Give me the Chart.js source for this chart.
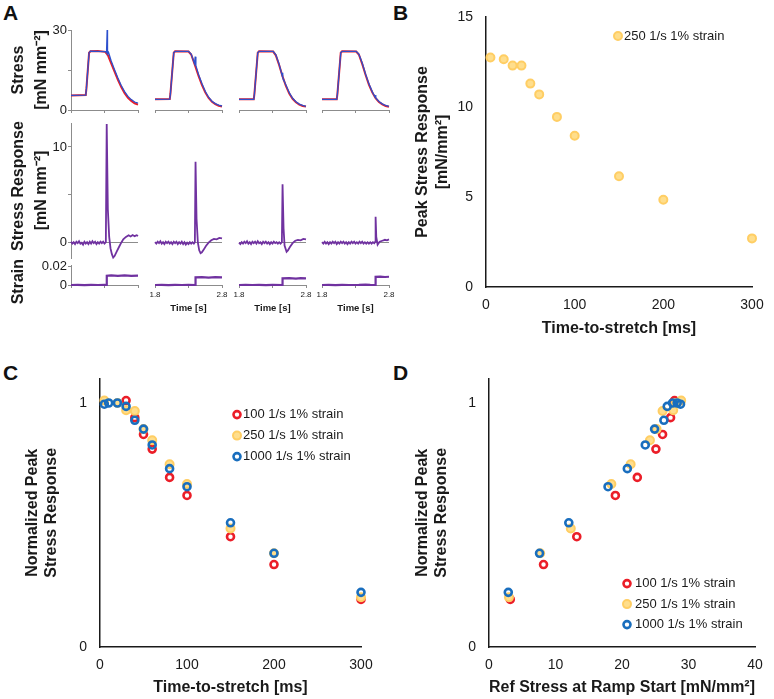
<!DOCTYPE html>
<html>
<head>
<meta charset="utf-8">
<script src="https://cdn.jsdelivr.net/npm/chart.js@4.4.1/dist/chart.umd.min.js"></script>
<style>
  body { margin: 0; background: #fff; }
  #fig { position: relative; width: 774px; height: 699px; overflow: hidden; font-family: "Liberation Sans", Arial, sans-serif; }
  .tag { position: absolute; font-weight: bold; font-size: 21px; line-height: 21px; color: #111; }
</style>
</head>
<body>
<div id="fig">
  <div class="tag" style="left:3px;top:2px">A</div>
  <div class="tag" style="left:393px;top:2px">B</div>
  <div class="tag" style="left:3px;top:362px">C</div>
  <div class="tag" style="left:393px;top:362px">D</div>
</div>
<script>
// ---- panel A traces: [time s, value] ----
const stressFit1 = [[1.80,5.4],[2.02,5.6],[2.03,8],[2.07,21.5],[2.09,22.0],[2.20,22.1],[2.31,21.8],[2.35,20.6],[2.40,17.5],[2.45,14.4],[2.50,11.3],[2.55,8.6],[2.60,6.3],[2.65,4.6],[2.70,3.4],[2.75,2.5],[2.80,2.0]];
const stressRaw1 = [[1.80,5.5],[2.02,5.6],[2.03,8],[2.07,21.5],[2.09,22.1],[2.20,22.0],[2.31,21.9],[2.33,21.5],[2.34,30],[2.345,21],[2.36,21.6],[2.40,18.4],[2.45,15.1],[2.50,12.0],[2.55,9.2],[2.60,6.9],[2.65,5.1],[2.70,3.9],[2.75,3.0],[2.80,2.6]];
const stressFit2 = [[1.80,4.0],[2.02,4.1],[2.03,6],[2.08,21.5],[2.10,22.0],[2.30,21.9],[2.34,20.8],[2.40,16.5],[2.45,12.8],[2.50,9.4],[2.55,6.6],[2.60,4.5],[2.65,3.1],[2.70,2.2],[2.75,1.6],[2.80,1.3]];
const stressRaw2 = [[1.80,4.0],[2.02,4.1],[2.03,6],[2.08,21.5],[2.10,22.0],[2.30,22.0],[2.34,21.0],[2.39,17.4],[2.40,20],[2.41,16.6],[2.45,13.3],[2.50,9.9],[2.55,7.0],[2.60,4.8],[2.65,3.3],[2.70,2.4],[2.75,1.8],[2.80,1.5]];
const stressFit3 = [[1.80,4.0],[2.02,4.0],[2.03,6],[2.08,21.5],[2.10,22.0],[2.31,21.9],[2.35,20.5],[2.40,16.8],[2.45,12.6],[2.50,9.0],[2.55,6.2],[2.60,4.2],[2.65,2.9],[2.70,2.0],[2.75,1.5],[2.80,1.3]];
const stressRaw3 = [[1.80,4.0],[2.02,4.0],[2.03,6],[2.08,21.5],[2.10,22.0],[2.31,22.0],[2.35,20.7],[2.40,17.1],[2.445,12.8],[2.45,14.0],[2.455,12.2],[2.50,9.4],[2.55,6.5],[2.60,4.4],[2.65,3.1],[2.70,2.2],[2.75,1.7],[2.80,1.4]];
const stressFit4 = [[1.80,4.0],[2.02,4.0],[2.03,6],[2.08,21.5],[2.10,22.0],[2.31,21.9],[2.35,20.8],[2.40,17.3],[2.45,13.2],[2.50,9.5],[2.55,6.6],[2.60,4.4],[2.65,3.0],[2.70,2.1],[2.75,1.5],[2.80,1.2]];
const stressRaw4 = [[1.80,4.0],[2.02,4.0],[2.03,6],[2.08,21.5],[2.10,22.0],[2.31,22.0],[2.35,21.0],[2.40,17.6],[2.45,13.5],[2.50,9.8],[2.55,6.9],[2.595,4.7],[2.60,5.6],[2.605,4.5],[2.65,3.2],[2.70,2.3],[2.75,1.7],[2.80,1.4]];

const resp1 = [[1.80,0.1],[1.82,-0.1],[1.84,0.05],[1.86,-0.15],[1.88,0.1],[1.90,-0.05],[1.92,0.15],[1.94,-0.1],[1.96,0.0],[1.98,-0.2],[2.00,0.1],[2.02,-0.1],[2.04,0.05],[2.06,-0.15],[2.08,0.1],[2.10,-0.1],[2.12,0.15],[2.14,-0.05],[2.16,0.1],[2.18,-0.15],[2.20,0.05],[2.22,-0.1],[2.24,0.1],[2.26,-0.05],[2.28,0.1],[2.30,-0.1],[2.32,0.05],[2.333,12.4],[2.35,3.5],[2.37,0.6],[2.39,-0.6],[2.41,-1.2],[2.43,-1.55],[2.45,-1.4],[2.48,-0.95],[2.52,-0.4],[2.55,0.0],[2.58,0.35],[2.62,0.6],[2.66,0.78],[2.69,0.65],[2.72,0.8],[2.75,0.68],[2.78,0.78],[2.80,0.7]];
const resp2 = [[1.80,0.05],[1.82,-0.1],[1.84,0.1],[1.86,-0.05],[1.88,0.15],[1.90,-0.1],[1.92,0.05],[1.94,-0.15],[1.96,0.1],[1.98,-0.05],[2.00,0.1],[2.02,-0.1],[2.04,0.05],[2.06,-0.15],[2.08,0.1],[2.10,-0.05],[2.12,0.1],[2.14,-0.15],[2.16,0.05],[2.18,-0.1],[2.20,0.1],[2.22,-0.15],[2.24,0.05],[2.26,-0.2],[2.28,0.0],[2.30,-0.15],[2.32,0.05],[2.34,-0.1],[2.36,0.05],[2.38,-0.1],[2.395,0.05],[2.405,8.45],[2.42,2.5],[2.44,0.0],[2.46,-0.8],[2.48,-1.1],[2.50,-1.0],[2.53,-0.7],[2.56,-0.35],[2.60,0.0],[2.64,0.25],[2.68,0.4],[2.72,0.35],[2.76,0.5],[2.80,0.45]];
const resp3 = [[1.80,0.0],[1.82,-0.15],[1.84,0.05],[1.86,-0.1],[1.88,0.1],[1.90,-0.05],[1.92,0.15],[1.94,-0.1],[1.96,0.05],[1.98,-0.15],[2.00,0.1],[2.02,-0.05],[2.04,0.1],[2.06,-0.1],[2.08,0.15],[2.10,-0.05],[2.12,0.05],[2.14,-0.15],[2.16,0.1],[2.18,-0.05],[2.20,0.1],[2.22,-0.1],[2.24,0.05],[2.26,-0.15],[2.28,0.05],[2.30,-0.1],[2.32,0.1],[2.34,-0.05],[2.36,0.05],[2.38,-0.1],[2.40,0.05],[2.42,-0.1],[2.44,0.05],[2.45,6.1],[2.465,1.5],[2.48,-0.3],[2.51,-0.95],[2.53,-0.8],[2.56,-0.45],[2.60,-0.05],[2.64,0.2],[2.68,0.3],[2.72,0.25],[2.76,0.4],[2.80,0.35]];
const resp4 = [[1.80,0.05],[1.82,-0.1],[1.84,0.1],[1.86,-0.1],[1.88,0.05],[1.90,-0.15],[1.92,0.05],[1.94,-0.1],[1.96,0.1],[1.98,-0.05],[2.00,0.1],[2.02,-0.15],[2.04,0.05],[2.06,-0.1],[2.08,0.1],[2.10,-0.05],[2.12,0.1],[2.14,-0.1],[2.16,0.05],[2.18,-0.15],[2.20,0.05],[2.22,-0.1],[2.24,0.1],[2.26,-0.05],[2.28,0.1],[2.30,-0.1],[2.32,0.05],[2.34,-0.1],[2.36,0.1],[2.38,-0.05],[2.40,0.1],[2.42,-0.1],[2.44,0.05],[2.46,-0.1],[2.48,0.05],[2.50,-0.1],[2.52,0.05],[2.54,-0.1],[2.56,0.05],[2.58,-0.05],[2.595,0.1],[2.60,2.7],[2.61,0.6],[2.63,-0.2],[2.66,0.1],[2.70,0.2],[2.74,0.3],[2.77,0.25],[2.80,0.35]];

const strain1 = [[1.80,0],[1.90,0.0002],[2.00,-0.0001],[2.10,0.0001],[2.20,0],[2.30,0.0001],[2.333,0],[2.334,0.0102],[2.40,0.0106],[2.50,0.0100],[2.60,0.0105],[2.70,0.0101],[2.80,0.0104]];
const strain2 = [[1.80,0],[1.90,0.0001],[2.00,-0.0001],[2.10,0.0002],[2.20,0],[2.30,0.0001],[2.404,0],[2.405,0.0084],[2.50,0.0087],[2.60,0.0082],[2.70,0.0086],[2.80,0.0083]];
const strain3 = [[1.80,0],[1.90,0.0002],[2.00,0],[2.10,0.0001],[2.20,-0.0001],[2.30,0.0001],[2.449,0],[2.45,0.0073],[2.55,0.0076],[2.65,0.0071],[2.72,0.0075],[2.80,0.0072]];
const strain4 = [[1.80,0],[1.90,0.0002],[2.00,-0.0001],[2.10,0.0001],[2.20,0],[2.35,0.0002],[2.45,0.0005],[2.52,0.0002],[2.599,0],[2.60,0.009],[2.67,0.0093],[2.74,0.0088],[2.80,0.0091]];

const stressTicks = [0, 15, 30];
const stressTickLabels = ['0', '', '30'];
const respTicks = [0, 5, 10];
const respTickLabels = ['0', '', '10'];
const strainTicks = [0, 0.02];
const strainTickLabels = ['0', '0.02'];
const timeTicks = [1.8, 2.3, 2.8];
const timeTickLabels = ['1.8', '', '2.8'];

// ---- panels B, C, D ----
const timesB = [5, 20, 30, 40, 50, 60, 80, 100, 150, 200, 300];
const peakB = [12.75, 12.65, 12.3, 12.3, 11.3, 10.7, 9.45, 8.4, 6.15, 4.85, 2.7];

const timesRed = [30, 40, 50, 60, 80, 100, 150, 200, 300];
const normRed = [1.01, 0.94, 0.871, 0.811, 0.695, 0.621, 0.452, 0.338, 0.195];
const refRed = [27.9, 27.3, 26.1, 25.1, 22.3, 19.0, 13.2, 8.2, 3.2];

const timesOrange = [5, 20, 30, 40, 50, 60, 80, 100, 150, 200, 300];
const normOrange = [1.01, 1.0, 0.97, 0.967, 0.893, 0.847, 0.749, 0.668, 0.486, 0.384, 0.204];
const refOrange = [28.9, 28.1, 27.7, 26.1, 25.2, 24.2, 21.3, 18.4, 12.3, 7.7, 3.0];

const timesBlue = [5, 10, 20, 30, 40, 50, 60, 80, 100, 150, 200, 300];
const normBlue = [0.995, 1.0, 1.0, 0.986, 0.929, 0.893, 0.828, 0.731, 0.657, 0.509, 0.384, 0.224];
const refBlue = [28.8, 28.3, 27.6, 26.8, 26.3, 24.9, 23.5, 20.8, 17.9, 12.0, 7.6, 2.9];

const seriesLabels = ['100 1/s 1% strain', '250 1/s 1% strain', '1000 1/s 1% strain'];

const FONT = '"Liberation Sans", Arial, sans-serif';
const GRAY = '#8c8c8c';
const INK = '#1a1a1a';
const RED = 'rgb(235,30,40)';
const BLUE = 'rgb(45,80,205)';
const PURPLE = 'rgb(112,50,160)';
const NB = '\u00A0';

const pairs = arr => arr.map(p => ({x: p[0], y: p[1]}));
const zip = (xs, ys) => xs.map((x, i) => ({x, y: ys[i]}));
const fixTicks = vals => s => { s.ticks = vals.map(v => ({value: v})); };

const insideLegend = {
  id: 'insideLegend',
  afterDraw(chart, args, opts) {
    if (opts.dx === undefined) return;
    const {ctx, chartArea} = chart;
    chart.data.datasets.forEach((ds, i) => {
      const x = chartArea.left + opts.dx;
      const y = chartArea.top + opts.dy + i * opts.gap;
      ctx.save();
      ctx.beginPath();
      ctx.arc(x, y, ds.pointRadius, 0, Math.PI * 2);
      ctx.fillStyle = ds.backgroundColor;
      ctx.fill();
      ctx.lineWidth = ds.borderWidth;
      ctx.strokeStyle = ds.borderColor;
      ctx.stroke();
      ctx.fillStyle = INK;
      ctx.font = '13px ' + FONT;
      ctx.textBaseline = 'middle';
      ctx.fillText(ds.label, x + opts.textGap, y);
      ctx.restore();
    });
  }
};
Chart.register(insideLegend);

// plot = [x0, y0, x1, y1] of the plotting area on the page
function addChart(plot, axisW, axisH, pad, config) {
  const [x0, y0, x1, y1] = plot;
  const [pl, pt, pr, pb] = pad;
  const w = x1 - x0 + axisW + pl + pr;
  const h = y1 - y0 + axisH + pt + pb;
  const canvas = document.createElement('canvas');
  canvas.width = w;
  canvas.height = h;
  canvas.style.cssText = `position:absolute;left:${x0 - axisW - pl}px;top:${y0 - pt}px;width:${w}px;height:${h}px`;
  document.getElementById('fig').appendChild(canvas);
  const o = config.options;
  o.responsive = false;
  o.animation = false;
  o.events = [];
  o.layout = {padding: {left: pl, top: pt, right: pr, bottom: pb}};
  o.plugins = Object.assign({legend: {display: false}, tooltip: {enabled: false}}, o.plugins || {});
  o.scales.x.afterFit = s => { s.height = axisH; s.paddingLeft = 0; s.paddingRight = 0; };
  o.scales.y.afterFit = s => { s.width = axisW; s.paddingTop = 0; s.paddingBottom = 0; };
  return new Chart(canvas, config);
}

function trace(data, color, width, order) {
  return {data: pairs(data), showLine: true, borderColor: color, borderWidth: width,
          pointRadius: 0, tension: 0, order, clip: 4};
}

// ---- panel A ----
const cols = [[71, 138], [155, 222], [239, 306], [322, 389]];
const stressFits = [stressFit1, stressFit2, stressFit3, stressFit4];
const stressRaws = [stressRaw1, stressRaw2, stressRaw3, stressRaw4];
const resps = [resp1, resp2, resp3, resp4];
const strains = [strain1, strain2, strain3, strain4];

function timeAxis(labels, withTitle) {
  return {
    type: 'linear', min: 1.8, max: 2.8,
    afterBuildTicks: fixTicks(timeTicks),
    border: {display: true, color: GRAY, width: 1},
    grid: {display: true, drawOnChartArea: false, drawTicks: true, tickLength: 3, tickColor: GRAY},
    ticks: {display: labels, maxRotation: 0, autoSkip: false, padding: 2, color: INK,
            font: {family: FONT, size: 8}, callback: (v, i) => timeTickLabels[i]},
    title: {display: withTitle, text: 'Time [s]', color: INK, padding: 0,
            font: {family: FONT, size: 9.5, weight: 'bold'}}
  };
}

function leftAxis(min, max, ticks, tickLabels, title, first, zeroLine) {
  return {
    type: 'linear', min, max,
    display: first || zeroLine,
    afterBuildTicks: fixTicks(ticks),
    border: {display: first, color: GRAY, width: 1},
    grid: {display: true, drawOnChartArea: zeroLine, drawTicks: first, tickLength: 3, tickColor: GRAY,
           color: c => (zeroLine && c.tick && c.tick.value === 0 ? GRAY : 'rgba(0,0,0,0)')},
    ticks: {display: first, padding: 1, color: INK, font: {family: FONT, size: 13},
            callback: (v, i) => tickLabels[i]},
    title: {display: first, text: title, color: INK, padding: {top: 7.5, bottom: 0},
            font: {family: FONT, size: 16, weight: 'bold', lineHeight: 1.44}}
  };
}

cols.forEach((c, k) => {
  const first = k === 0;
  // stress row
  addChart([c[0], 30, c[1], 110], first ? 71 : 0, 6, [first ? 0 : 2, 10, 2, 0], {
    type: 'scatter',
    data: {datasets: [trace(stressRaws[k], BLUE, 1.3, 1), trace(stressFits[k], RED, 2, 2)]},
    options: {scales: {
      x: timeAxis(false, false),
      y: leftAxis(0, 30, stressTicks, stressTickLabels, ['Stress', '[mN mm\u207B\u00B2]'], first, false)
    }}
  });
  // stress response row
  addChart([c[0], 123, c[1], 258], first ? 71 : 0, 0, [first ? 0 : 2, 8, 2, 4], {
    type: 'scatter',
    data: {datasets: [trace(resps[k], PURPLE, 1.8, 1)]},
    options: {scales: {
      x: {type: 'linear', min: 1.8, max: 2.8, display: false},
      y: leftAxis(-1.6, 12.5, respTicks, respTickLabels, [NB + NB + 'Stress Response', '[mN mm\u207B\u00B2]'], first, true)
    }}
  });
  // strain row
  addChart([c[0], 265, c[1], 285], first ? 71 : 0, first ? 6 : 29, [first ? 0 : 10, 24, first ? 2 : 10, first ? 22 : 2], {
    type: 'scatter',
    data: {datasets: [trace(strains[k], PURPLE, 2.2, 1)]},
    options: {scales: {
      x: timeAxis(!first, !first),
      y: leftAxis(0, 0.022, strainTicks, strainTickLabels, 'Strain' + NB + NB + NB, first, false)
    }}
  });
});

// ---- shared styles for B, C, D ----
function bigAxisX(max, step, title) {
  return {
    type: 'linear', min: 0, max,
    border: {display: true, color: INK, width: 1.5},
    grid: {display: false, drawTicks: false},
    ticks: {stepSize: step, padding: 10, color: INK, maxRotation: 0, font: {family: FONT, size: 14}},
    title: {display: true, text: title, color: INK, padding: {top: 0, bottom: 1.5},
            font: {family: FONT, size: 16, weight: 'bold'}}
  };
}
function bigAxisY(min, max, ticks, title, lineHeight, padTop) {
  return {
    type: 'linear', min, max,
    afterBuildTicks: fixTicks(ticks),
    border: {display: true, color: INK, width: 1.5},
    grid: {display: false, drawTicks: false},
    ticks: {padding: 13, color: INK, font: {family: FONT, size: 14}},
    title: {display: true, text: title, color: INK, padding: {top: padTop, bottom: 0},
            font: {family: FONT, size: 16, weight: 'bold', lineHeight}}
  };
}
const redStyle = {pointRadius: 3.5, borderWidth: 2.6, borderColor: RED, backgroundColor: 'rgba(255,255,255,0)', clip: false};
const orangeStyle = {pointRadius: 4, borderWidth: 2, borderColor: 'rgb(255,206,100)', backgroundColor: 'rgb(255,222,140)', clip: false};
const blueStyle = {pointRadius: 3.5, borderWidth: 2.6, borderColor: 'rgb(25,110,190)', backgroundColor: 'rgba(255,255,255,0)', clip: false};

// ---- B ----
addChart([486, 17, 752, 287], 86, 53, [0, 8, 20, 0], {
  type: 'scatter',
  data: {datasets: [Object.assign({label: '250 1/s 1% strain', data: zip(timesB, peakB)}, orangeStyle)]},
  options: {
    plugins: {insideLegend: {dx: 132, dy: 19, gap: 0, textGap: 6}},
    scales: {
      x: bigAxisX(300, 100, 'Time-to-stretch [ms]'),
      y: bigAxisY(0, 15, [0, 5, 10, 15], ['Peak Stress Response', '[mN/mm\u00B2]'], 1.25, 13)
    }
  }
});

// ---- C ----
addChart([100, 377, 361, 647], 100, 52, [0, 5, 15, 0], {
  type: 'scatter',
  data: {datasets: [
    Object.assign({label: seriesLabels[0], data: zip(timesRed, normRed), order: 3}, redStyle),
    Object.assign({label: seriesLabels[1], data: zip(timesOrange, normOrange), order: 2}, orangeStyle),
    Object.assign({label: seriesLabels[2], data: zip(timesBlue, normBlue), order: 1}, blueStyle)
  ]},
  options: {
    plugins: {insideLegend: {dx: 137, dy: 36, gap: 21, textGap: 6}},
    scales: {
      x: bigAxisX(300, 100, 'Time-to-stretch [ms]'),
      y: bigAxisY(0, 1.1, [0, 1], ['Normalized Peak', 'Stress Response'], 1.1875, 23.5)
    }
  }
});

// ---- D ----
addChart([489, 377, 755, 647], 99, 52, [0, 5, 15, 0], {
  type: 'scatter',
  data: {datasets: [
    Object.assign({label: seriesLabels[0], data: zip(refRed, normRed), order: 3}, redStyle),
    Object.assign({label: seriesLabels[1], data: zip(refOrange, normOrange), order: 2}, orangeStyle),
    Object.assign({label: seriesLabels[2], data: zip(refBlue, normBlue), order: 1}, blueStyle)
  ]},
  options: {
    plugins: {insideLegend: {dx: 138, dy: 205, gap: 20.5, textGap: 8}},
    scales: {
      x: bigAxisX(40, 10, 'Ref Stress at Ramp Start [mN/mm\u00B2]'),
      y: bigAxisY(0, 1.1, [0, 1], ['Normalized Peak', 'Stress Response'], 1.1875, 23.5)
    }
  }
});
</script>
</body>
</html>
